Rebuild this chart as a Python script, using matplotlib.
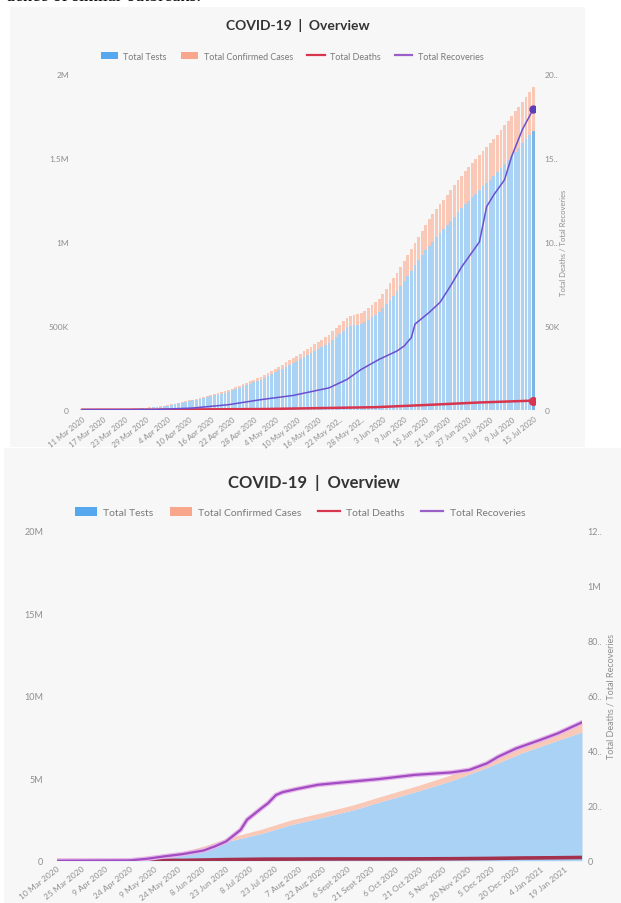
import matplotlib
matplotlib.use('Agg')
import matplotlib.pyplot as plt
import numpy as np
import pandas as pd
from matplotlib.patches import Rectangle
from matplotlib.lines import Line2D

plt.rcParams['font.family'] = ['Lato', 'DejaVu Sans']

# ---------------- top chart: daily, 11 Mar 2020 - 15 Jul 2020 (thousands)
top_start = '2020-03-11'
top_tests = [0.5, 0.6, 0.7, 0.9, 1, 1.2, 1.5, 1.8, 2.2, 2.7, 3.2,
             3.8, 4.5, 5.3, 6.2, 7, 8, 9, 10.5, 12, 13.5,
             16, 19, 22, 25, 29, 33, 37, 41, 45, 50, 55,
             60, 65, 70, 75, 80, 85, 90, 95, 100,
             107, 115, 123, 131, 139, 147, 155, 163, 171, 179,
             190, 201, 212, 223, 234, 245, 256, 267, 278,
             290, 302, 314, 326, 338, 350, 362, 374, 386, 398,
             415, 432, 450, 470, 490,
             498, 502, 505, 508,
             520, 535, 550, 565, 580,
             605, 630, 655, 680, 705,
             735, 765, 795, 825, 860,
             890, 920, 950, 978,
             1002, 1026, 1050, 1074, 1098,
             1124, 1150, 1176, 1200, 1224,
             1245, 1266, 1288, 1310,
             1330, 1350, 1370, 1392, 1414,
             1438, 1462, 1486, 1510, 1534,
             1560, 1586, 1612, 1638, 1662]
top_cases = [0.02, 0.02, 0.03, 0.03, 0.05, 0.1, 0.2, 0.3, 0.5, 0.7, 0.9,
             1.0, 1.1, 1.2, 1.3, 1.4, 1.5, 1.6, 1.7, 1.8, 1.9,
             2.0, 2.3, 2.6, 2.9, 3.2, 3.6, 4.0, 4.3, 4.6, 5.0,
             5.4, 5.7, 6.0, 6.5, 7.0, 7.5, 8.0, 8.5, 9.2, 9.9,
             10.5, 11.2, 11.9, 12.7, 13.5, 14.2, 15.0, 15.8, 16.5, 17.3,
             18.1, 19.0, 20.0, 21.0, 22.5, 24.0, 25.5, 27.0, 28.5, 30.0,
             32, 34, 36, 38, 40, 42, 44, 46, 48, 51,
             52, 54, 56, 58, 60, 62, 64, 66, 68, 70,
             72, 75, 80, 86, 92, 98, 104, 110, 115, 120,
             125, 130, 135, 140, 145, 150, 156, 162, 168, 174,
             178, 182, 186, 189, 192, 195, 198, 200, 202, 204,
             206, 209, 213, 217, 221, 225, 229, 233, 236, 240,
             243, 246, 249, 252, 255, 258]
top_rec_dates = ['2020-03-11', '2020-03-31', '2020-04-11', '2020-04-21', '2020-04-30',
                 '2020-05-09', '2020-05-19', '2020-05-24', '2020-05-28', '2020-06-02',
                 '2020-06-07', '2020-06-09', '2020-06-11', '2020-06-12', '2020-06-16',
                 '2020-06-19', '2020-06-22', '2020-06-25', '2020-06-30', '2020-07-02',
                 '2020-07-04', '2020-07-07', '2020-07-09', '2020-07-12', '2020-07-15']
top_rec = [0, 0.05, 1, 3, 6, 8.5, 13, 18, 24, 30, 35, 38, 43, 51, 58,
           64, 74, 85, 100, 121, 128, 137, 151, 167, 179]
top_death_dates = ['2020-03-11', '2020-04-01', '2020-05-01', '2020-06-01',
                   '2020-06-15', '2020-06-30', '2020-07-15']
top_deaths = [0, 0.03, 0.4, 1.5, 2.8, 4.3, 5.4]
top_xlabels = ['11 Mar 2020', '17 Mar 2020', '23 Mar 2020', '29 Mar 2020', '4 Apr 2020',
               '10 Apr 2020', '16 Apr 2020', '22 Apr 2020', '28 Apr 2020', '4 May 2020',
               '10 May 2020', '16 May 2020', '22 May 202..', '28 May 202..', '3 Jun 2020',
               '9 Jun 2020', '15 Jun 2020', '21 Jun 2020', '27 Jun 2020', '3 Jul 2020',
               '9 Jul 2020', '15 Jul 2020']
top_yticks = [0, 500, 1000, 1500, 2000]
top_ylabels = ['0', '500K', '1M', '1.5M', '2M']
top_rticks = [0, 50, 100, 150, 200]
top_rlabels = ['0', '50K', '10..', '15..', '20..']

# ---------------- bottom chart: 10 Mar 2020 - 30 Jan 2021
bot_start = '2020-03-10'
bot_end = '2021-01-30'
bot_dates = ['2020-03-10', '2020-04-01', '2020-04-24', '2020-05-16', '2020-05-27',
             '2020-06-09', '2020-06-23', '2020-07-06', '2020-07-15', '2020-08-02',
             '2020-08-24', '2020-09-10', '2020-09-26', '2020-10-21', '2020-11-10',
             '2020-12-02', '2020-12-24', '2021-01-15', '2021-01-30']
bot_tests = [0.0005, 0.02, 0.15, 0.35, 0.50, 0.77, 1.15, 1.45, 1.65, 2.18,
             2.68, 3.08, 3.55, 4.25, 4.85, 5.65, 6.55, 7.30, 7.80]      # millions
bot_cases = [0, 0.002, 0.011, 0.035, 0.06, 0.11, 0.19, 0.23, 0.26, 0.28,
             0.29, 0.30, 0.31, 0.33, 0.36, 0.41, 0.46, 0.52, 0.55]      # millions
bot_rec_dates = ['2020-03-10', '2020-04-24', '2020-05-05', '2020-05-16', '2020-05-27',
                 '2020-06-09', '2020-06-16', '2020-06-23', '2020-07-02', '2020-07-06',
                 '2020-07-15', '2020-07-19', '2020-07-24', '2020-07-28', '2020-08-06',
                 '2020-08-19', '2020-09-04', '2020-09-26', '2020-10-18', '2020-11-10',
                 '2020-11-21', '2020-12-02', '2020-12-09', '2020-12-20', '2021-01-04',
                 '2021-01-15', '2021-01-30']
bot_rec = [0, 1, 7, 16, 24, 37, 52, 70, 112, 149, 191, 209, 239, 249, 261,
           276, 285, 297, 312, 321, 330, 354, 378, 408, 439, 463, 503]   # thousands
bot_death_dates = ['2020-03-10', '2020-04-24', '2020-05-27', '2020-06-23', '2020-07-15',
                   '2020-08-24', '2020-09-26', '2020-10-21', '2020-11-10', '2020-12-02',
                   '2020-12-24', '2021-01-15', '2021-01-30']
bot_deaths = [0, 0.25, 1.2, 3.9, 5.5, 6.3, 6.4, 6.7, 7.2, 8.2, 9.8, 10.8, 11.8]
bot_xlabels = ['10 Mar 2020', '25 Mar 2020', '9 Apr 2020', '24 Apr 2020', '9 May 2020',
               '24 May 2020', '8 Jun 2020', '23 Jun 2020', '8 Jul 2020', '23 Jul 2020',
               '7 Aug 2020', '22 Aug 2020', '6 Sept 2020', '21 Sept 2020', '6 Oct 2020',
               '21 Oct 2020', '5 Nov 2020', '20 Nov 2020', '5 Dec 2020', '20 Dec 2020',
               '4 Jan 2021', '19 Jan 2021']
bot_yticks = [0, 5, 10, 15, 20]
bot_ylabels = ['0', '5M', '10M', '15M', '20M']
bot_rticks = [0, 200, 400, 600, 800, 1000, 1200]
bot_rlabels = ['0', '20..', '40..', '60..', '80..', '1M', '12..']

legend_names = ['Total Tests', 'Total Confirmed Cases', 'Total Deaths', 'Total Recoveries']

BLUE, BLUE_L = '#55a8ee', '#aad2f5'
PINK, PINK_L = '#f8a78d', '#f9c8b7'
RED = '#d8354f'
PURPLE = '#6b4fcf'
TICK = '#8e8e8e'

W, H = 621, 904
fig = plt.figure(figsize=(W / 100, H / 100), dpi=100)


def fx(px):
    return px / W


def fy(py):
    return 1 - py / H


fig.patches.append(Rectangle((fx(10), fy(448)), 575 / W, 440 / H, transform=fig.transFigure,
                             fc='#f7f7f7', ec='none', zorder=-10))
fig.patches.append(Rectangle((fx(4), 0), 617 / W, 455 / H, transform=fig.transFigure,
                             fc='#f7f7f7', ec='none', zorder=-10))
fig.text(fx(6), fy(-4), 'dence of similar outbreaks.', family='Liberation Serif',
         fontsize=13, va='center', ha='left', color='black')


def days(dates, start):
    return (pd.to_datetime(dates) - pd.Timestamp(start)).days.values


def style(ax):
    for s in ax.spines.values():
        s.set_visible(False)
    ax.tick_params(axis='both', length=0, colors=TICK)


def legend(fs, y, cx, hl):
    handles = [Rectangle((0, 0), 1, 1, fc=BLUE, ec='none'),
               Rectangle((0, 0), 1, 1, fc=PINK, ec='none'),
               Line2D([], [], color=RED, lw=1.6),
               Line2D([], [], color='#9b5fc9', lw=1.6)]
    fig.legend(handles, legend_names, loc='center', bbox_to_anchor=(fx(cx), fy(y)),
               ncol=4, frameon=False, fontsize=fs, labelcolor='#7a7a7a',
               handlelength=hl, handleheight=0.9, columnspacing=1.6, handletextpad=0.6)


# ---------------- top chart
ax1 = fig.add_axes([fx(80), fy(410.7), 455 / W, 335.7 / H])
ax1.set_facecolor('none')
n = len(top_tests)
x = np.arange(n)
bar_cols = [BLUE_L] * (n - 1) + ['#7cb4e6']
ax1.bar(x, top_tests, width=0.78, color=bar_cols, linewidth=0)
ax1.bar(x, top_cases, bottom=top_tests, width=0.78, color=PINK_L, linewidth=0)
ax1.set_xlim(-0.5, n - 0.5)
ax1.set_ylim(0, 2000)
ax1.set_yticks(top_yticks)
ax1.set_yticklabels(top_ylabels, fontsize=6)
ax1.set_xticks(x[::6])
ax1.set_xticklabels(top_xlabels, rotation=38, ha='right', rotation_mode='anchor', fontsize=5.5)
style(ax1)
ax1.tick_params(axis='y', pad=8)
ax1.tick_params(axis='x', pad=4)

ax1b = ax1.twinx()
rd = days(top_rec_dates, top_start)
dd = days(top_death_dates, top_start)
ax1b.plot(dd, top_deaths, color=RED, lw=1.8, solid_capstyle='round')
ax1b.plot(rd, top_rec, color=PURPLE, lw=1.1)
ax1b.plot(dd[-1], top_deaths[-1], 'o', color=RED, ms=5.5)
ax1b.plot(rd[-1], top_rec[-1], 'o', color='#5c3fb5', ms=5)
ax1b.set_ylim(0, 200)
ax1b.set_yticks(top_rticks)
ax1b.set_yticklabels(top_rlabels, fontsize=6)
style(ax1b)
ax1b.tick_params(axis='y', pad=7)
ax1b.set_ylabel('Total Deaths / Total Recoveries', fontsize=5.5, color=TICK, rotation=90)
ax1b.yaxis.set_label_coords((560 - 80) / 455, 0.5)

fig.text(fx(298), fy(25), 'COVID-19  |  Overview', ha='center', va='center',
         fontsize=10, fontweight='bold', color='#333333')
legend(6.5, 57, 292, 1.9)

# ---------------- bottom chart
ax2 = fig.add_axes([fx(57), fy(861.7), 525 / W, 330 / H])
ax2.set_facecolor('none')
bd = days(bot_dates, bot_start)
tests = np.array(bot_tests)
total = tests + np.array(bot_cases)
ax2.fill_between(bd, 0, tests, color=BLUE_L, lw=0)
ax2.fill_between(bd, tests, total, color=PINK_L, lw=0)
span = days([bot_end], bot_start)[0]
ax2.set_xlim(0, span)
ax2.set_ylim(0, 20)
ax2.set_yticks(bot_yticks)
ax2.set_yticklabels(bot_ylabels, fontsize=6.5)
ax2.set_xticks(np.arange(0, 15 * len(bot_xlabels), 15))
ax2.set_xticklabels(bot_xlabels, rotation=38, ha='right', rotation_mode='anchor', fontsize=6)
style(ax2)
ax2.tick_params(axis='y', pad=10)
ax2.tick_params(axis='x', pad=3)

ax2b = ax2.twinx()
brd = days(bot_rec_dates, bot_start)
bdd = days(bot_death_dates, bot_start)
ax2b.plot(bdd, bot_deaths, color='#a3304d', lw=2.6)
ax2b.plot(brd, bot_rec, color='#e6b8ea', lw=3.4)
ax2b.plot(brd, bot_rec, color='#a24cc2', lw=1.6)
ax2b.set_ylim(0, 1200)
ax2b.set_yticks(bot_rticks)
ax2b.set_yticklabels(bot_rlabels, fontsize=6.5)
style(ax2b)
ax2b.tick_params(axis='y', pad=4)
ax2b.set_ylabel('Total Deaths / Total Recoveries', fontsize=6.5, color=TICK, rotation=90)
ax2b.yaxis.set_label_coords((607 - 57) / 525, 0.5)

fig.text(fx(314), fy(483), 'COVID-19  |  Overview', ha='center', va='center',
         fontsize=12, fontweight='bold', color='#333333')
legend(7.5, 513, 300, 2.1)

fig.savefig('out.png', dpi=100, facecolor='white')
